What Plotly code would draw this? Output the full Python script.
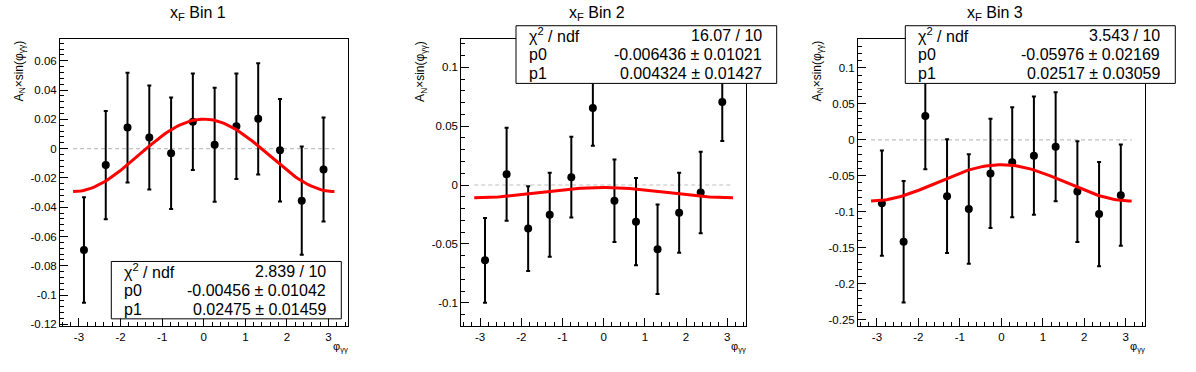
import numpy as np
import plotly.graph_objects as go

# ---------------- data ----------------
phi = [-2.880, -2.356, -1.833, -1.309, -0.785, -0.262, 0.262, 0.785, 1.309, 1.833, 2.356, 2.880]

bin1_y = [-0.0692, -0.0112, 0.0144, 0.0076, -0.0031, 0.0184, 0.0027, 0.0153, 0.0204, -0.0011, -0.0355, -0.0142]
bin1_err = [0.036, 0.037, 0.0375, 0.0355, 0.038, 0.033, 0.039, 0.036, 0.038, 0.035, 0.037, 0.0355]

bin2_y = [-0.0639, 0.0092, -0.0370, -0.0252, 0.0067, 0.0655, -0.0134, -0.0311, -0.0546, -0.0235, -0.0064, 0.0706]
bin2_err = [0.036, 0.0395, 0.036, 0.0357, 0.0343, 0.0322, 0.035, 0.037, 0.038, 0.034, 0.0346, 0.0333]

bin3_y = [-0.0880, -0.1416, 0.0330, -0.0783, -0.0962, -0.0467, -0.0312, -0.0220, -0.0096, -0.0719, -0.1031, -0.0770]
bin3_err = [0.073, 0.0845, 0.074, 0.079, 0.076, 0.076, 0.0763, 0.082, 0.0757, 0.070, 0.0724, 0.0703]

fit_p0 = [-0.00456, -0.006436, -0.05976]
fit_p1 = [0.02475, 0.004324, 0.02517]
stat_chi2 = ["2.839 / 10", "16.07 / 10", "3.543 / 10"]
stat_p0 = ["-0.00456 ± 0.01042", "-0.006436 ± 0.01021", "-0.05976 ± 0.02169"]
stat_p1 = ["0.02475 ± 0.01459", "0.004324 ± 0.01427", "0.02517 ± 0.03059"]

titles = ["x<sub>F</sub> Bin 1", "x<sub>F</sub> Bin 2", "x<sub>F</sub> Bin 3"]

x_tickvals = [-3, -2, -1, 0, 1, 2, 3]
x_ticktext = ["-3", "-2", "-1", "0", "1", "2", "3"]

y1_tickvals = [-0.12, -0.1, -0.08, -0.06, -0.04, -0.02, 0, 0.02, 0.04, 0.06]
y1_ticktext = ["-0.12", "-0.1", "-0.08", "-0.06", "-0.04", "-0.02", "0", "0.02", "0.04", "0.06"]
y2_tickvals = [-0.1, -0.05, 0, 0.05, 0.1]
y2_ticktext = ["-0.1", "-0.05", "0", "0.05", "0.1"]
y3_tickvals = [-0.25, -0.2, -0.15, -0.1, -0.05, 0, 0.05, 0.1]
y3_ticktext = ["-0.25", "-0.2", "-0.15", "-0.1", "-0.05", "0", "0.05", "0.1"]

# ---------------- layout geometry (pixels) ----------------
W, H = 1196, 372
frames = [(60, 347.5), (461.3, 746), (858, 1144.7)]
frame_top, frame_bot = 39.3, 330
x_range = [-3.456, 3.456]
y_ranges = [[-0.1214, 0.0750], [-0.1201, 0.1241], [-0.2593, 0.1402]]
y_minor = [0.004, 0.01, 0.01]
stat_boxes = [(111.3, 264.3, 341.3, 322.3), (516, 26, 776.7, 84.3), (905.3, 26, 1175.3, 84.3)]
title_cx = [198.3, 596.5, 994.8]
ytitle_cx = [20, 421.5, 818]

def px(x):
    return x / W

def py(y):
    return (H - y) / H

FONT = "Liberation Sans, Arial, Helvetica, sans-serif"

datasets = [(bin1_y, bin1_err), (bin2_y, bin2_err), (bin3_y, bin3_err)]
ytick = [(y1_tickvals, y1_ticktext), (y2_tickvals, y2_ticktext), (y3_tickvals, y3_ticktext)]

fig = go.Figure()
shapes = []
annotations = []

for i in range(3):
    xa = "x" if i == 0 else f"x{i+1}"
    ya = "y" if i == 0 else f"y{i+1}"
    yv, ye = datasets[i]

    # zero reference line
    fig.add_trace(go.Scatter(x=[-np.pi, np.pi], y=[0, 0], mode="lines",
                             line=dict(color="#c0c0c0", width=1.2, dash="4px,3px"),
                             xaxis=xa, yaxis=ya, showlegend=False, hoverinfo="skip"))
    # data points
    fig.add_trace(go.Scatter(x=phi, y=yv, mode="markers",
                             marker=dict(color="black", size=8),
                             error_y=dict(type="data", array=ye, visible=True,
                                          color="black", thickness=2, width=2),
                             xaxis=xa, yaxis=ya, showlegend=False))
    # fit curve p0 + p1*cos(phi)
    xf = np.linspace(-np.pi, np.pi, 101)
    yf = fit_p0[i] + fit_p1[i] * np.cos(xf)
    fig.add_trace(go.Scatter(x=xf, y=yf, mode="lines",
                             line=dict(color="#ff0000", width=3),
                             xaxis=xa, yaxis=ya, showlegend=False, hoverinfo="skip"))

    l, r = frames[i]
    xaxis = dict(domain=[px(l), px(r)], range=x_range, anchor=ya,
                 showgrid=False, zeroline=False, showline=True, mirror=True,
                 linecolor="black", linewidth=1,
                 ticks="inside", ticklen=8, tickcolor="black", tickwidth=1,
                 tickmode="array", tickvals=x_tickvals, ticktext=x_ticktext,
                 ticklabelstandoff=0,
                 minor=dict(ticks="inside", ticklen=4, tickcolor="black", tickwidth=1,
                            tickmode="linear", tick0=0, dtick=0.2, showgrid=False),
                 tickfont=dict(family=FONT, size=11.5, color="black"))
    yaxis = dict(domain=[py(frame_bot), py(frame_top)], range=y_ranges[i], anchor=xa,
                 showgrid=False, zeroline=False, showline=True, mirror=True,
                 linecolor="black", linewidth=1,
                 ticks="inside", ticklen=8, tickcolor="black", tickwidth=1,
                 tickmode="array", tickvals=ytick[i][0], ticktext=ytick[i][1],
                 minor=dict(ticks="inside", ticklen=4, tickcolor="black", tickwidth=1,
                            tickmode="linear", tick0=0, dtick=y_minor[i], showgrid=False),
                 tickfont=dict(family=FONT, size=11.5, color="black"))
    fig.layout["xaxis" if i == 0 else f"xaxis{i+1}"] = xaxis
    fig.layout["yaxis" if i == 0 else f"yaxis{i+1}"] = yaxis

    # title
    annotations.append(dict(text=titles[i], x=px(title_cx[i]), y=py(14), xref="paper", yref="paper",
                            xanchor="center", yanchor="middle", showarrow=False,
                            font=dict(family=FONT, size=16, color="black")))
    # y axis title
    annotations.append(dict(text="A<sub>N</sub>×sin(φ<sub>γγ</sub>)", x=px(ytitle_cx[i]), y=py(frame_top),
                            xref="paper", yref="paper", xanchor="center", yanchor="top",
                            textangle=-90, showarrow=False,
                            font=dict(family=FONT, size=12, color="black")))
    # x axis title
    annotations.append(dict(text="φ<sub>γγ</sub>", x=px(r + 2), y=py(342), xref="paper", yref="paper",
                            xanchor="right", yanchor="top", showarrow=False,
                            font=dict(family=FONT, size=11, color="black")))

    # stats box
    bx0, by0, bx1, by1 = stat_boxes[i]
    shapes.append(dict(type="rect", xref="paper", yref="paper", layer="above",
                       x0=px(bx0), x1=px(bx1), y0=py(by1), y1=py(by0),
                       line=dict(color="black", width=1), fillcolor="white"))
    rowh = (by1 - by0) / 3
    labels = ["χ<sup>2</sup> / ndf", "p0", "p1"]
    values = [stat_chi2[i], stat_p0[i], stat_p1[i]]
    for k in range(3):
        yc = by0 + rowh * (k + 0.5)
        annotations.append(dict(text=labels[k], x=px(bx0 + 11), y=py(yc), xref="paper", yref="paper",
                                xanchor="left", yanchor="middle", showarrow=False,
                                font=dict(family=FONT, size=16, color="black")))
        annotations.append(dict(text=values[k], x=px(bx1 - 13), y=py(yc), xref="paper", yref="paper",
                                xanchor="right", yanchor="middle", showarrow=False,
                                font=dict(family=FONT, size=16, color="black")))

fig.update_layout(width=W, height=H, margin=dict(l=0, r=0, t=0, b=0),
                  paper_bgcolor="white", plot_bgcolor="white",
                  shapes=shapes, annotations=annotations, showlegend=False)

fig.write_html("out.html", config={"displayModeBar": False},
               post_script="document.body.style.margin='0';document.body.style.overflow='hidden';")
